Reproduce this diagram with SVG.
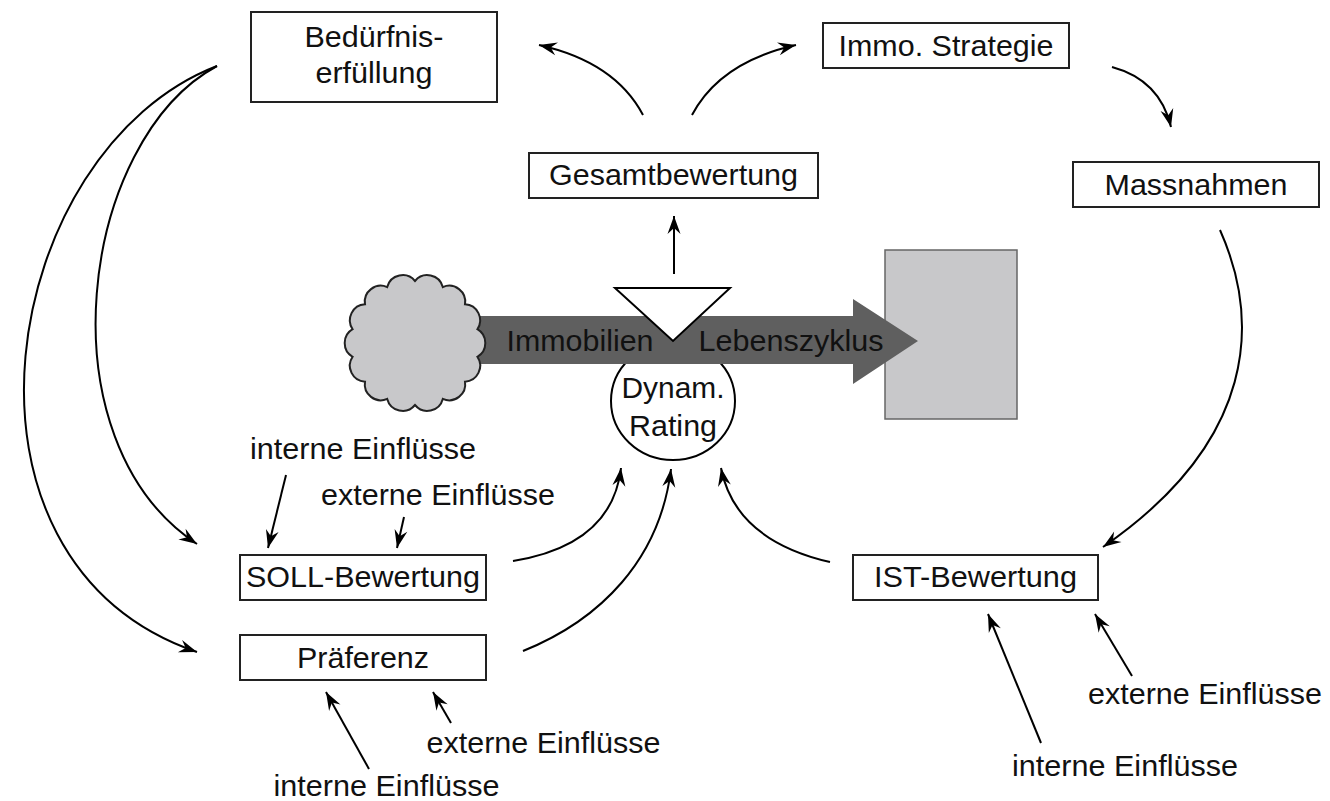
<svg xmlns="http://www.w3.org/2000/svg" width="1330" height="801" viewBox="0 0 1330 801">
<defs>
<marker id="ah" viewBox="-19 -7 20 14" markerWidth="20" markerHeight="14" refX="0" refY="0" orient="auto" markerUnits="userSpaceOnUse">
<path d="M0,0 L-18,-6.5 L-12,0 L-18,6.5 z" fill="#000"/>
</marker>
<style>
.box{fill:#fff;stroke:#222;stroke-width:2}
.t{font-family:"Liberation Sans",Arial,sans-serif;font-size:29.5px;fill:#111;text-anchor:middle}
.c{fill:none;stroke:#000;stroke-width:2;marker-end:url(#ah)}
</style>
</defs>
<rect width="1330" height="801" fill="#fff"/>

<g id="rating">
<ellipse cx="673" cy="401" rx="62" ry="59" fill="#fff" stroke="#000" stroke-width="2"/>
<text class="t" x="673" y="398" textLength="103" lengthAdjust="spacingAndGlyphs">Dynam.</text>
<text class="t" x="673" y="436" textLength="88" lengthAdjust="spacingAndGlyphs">Rating</text>
</g>

<g id="endrect">
<rect x="885" y="250" width="132" height="169" fill="#c8c8ca" stroke="#666" stroke-width="1.5"/>
</g>

<g id="lifecycle">
<polygon points="470,316 853,316 853,299 918,341 853,384 853,364 470,364" fill="#5f5f5f"/>
<text class="t" x="580" y="351" textLength="147" lengthAdjust="spacingAndGlyphs">Immobilien</text>
<text class="t" x="791" y="351" textLength="185" lengthAdjust="spacingAndGlyphs">Lebenszyklus</text>
</g>

<g id="cloud">
<path d="M415,281 A16,16 0 0 1 442.8,287.1 A16,16 0 0 1 465,304.3 A16,16 0 0 1 477.4,329.2 A16,16 0 0 1 477.4,356.8 A16,16 0 0 1 465,381.7 A16,16 0 0 1 442.8,398.9 A16,16 0 0 1 415,405 A16,16 0 0 1 387.2,398.9 A16,16 0 0 1 365,381.7 A16,16 0 0 1 352.6,356.8 A16,16 0 0 1 352.6,329.2 A16,16 0 0 1 365,304.3 A16,16 0 0 1 387.2,287.1 A16,16 0 0 1 415,281 z" fill="#c8c8ca" stroke="#222" stroke-width="2"/>
</g>

<g id="gate">
<polygon points="615,288 730,288 673,341" fill="#fff" stroke="#000" stroke-width="2"/>
</g>

<g id="beduerfnis">
<rect class="box" x="251" y="12" width="246" height="90"/>
<text class="t" x="374" y="47" textLength="139" lengthAdjust="spacingAndGlyphs">Bedürfnis-</text>
<text class="t" x="374" y="83" textLength="117" lengthAdjust="spacingAndGlyphs">erfüllung</text>
</g>

<g id="strategie">
<rect class="box" x="823" y="23" width="246" height="45"/>
<text class="t" x="946" y="56" textLength="215" lengthAdjust="spacingAndGlyphs">Immo. Strategie</text>
</g>

<g id="gesamt">
<rect class="box" x="529" y="153" width="289" height="45"/>
<text class="t" x="673.5" y="185" textLength="249" lengthAdjust="spacingAndGlyphs">Gesamtbewertung</text>
</g>

<g id="massnahmen">
<rect class="box" x="1073" y="162" width="246" height="45"/>
<text class="t" x="1196" y="195" textLength="183" lengthAdjust="spacingAndGlyphs">Massnahmen</text>
</g>

<g id="soll">
<rect class="box" x="240" y="555" width="246" height="45"/>
<text class="t" x="363" y="587" textLength="234" lengthAdjust="spacingAndGlyphs">SOLL-Bewertung</text>
</g>

<g id="praeferenz">
<rect class="box" x="240" y="635" width="246" height="45"/>
<text class="t" x="363" y="668" textLength="132" lengthAdjust="spacingAndGlyphs">Präferenz</text>
</g>

<g id="ist">
<rect class="box" x="853" y="555" width="245" height="45"/>
<text class="t" x="975.5" y="587" textLength="203" lengthAdjust="spacingAndGlyphs">IST-Bewertung</text>
</g>

<g id="einfluesse">
<text class="t" x="363" y="459" textLength="226" lengthAdjust="spacingAndGlyphs">interne Einflüsse</text>
<text class="t" x="438" y="505" textLength="234" lengthAdjust="spacingAndGlyphs">externe Einflüsse</text>
<text class="t" x="543.5" y="753" textLength="234" lengthAdjust="spacingAndGlyphs">externe Einflüsse</text>
<text class="t" x="386.5" y="796" textLength="226" lengthAdjust="spacingAndGlyphs">interne Einflüsse</text>
<text class="t" x="1205" y="704" textLength="234" lengthAdjust="spacingAndGlyphs">externe Einflüsse</text>
<text class="t" x="1125" y="776" textLength="226" lengthAdjust="spacingAndGlyphs">interne Einflüsse</text>
</g>

<g id="connectors">
<path class="c" d="M643,115 Q615,62 539,45"/>
<path class="c" d="M692,115 Q720,62 796,45"/>
<path class="c" d="M1112,67 Q1160,80 1171,127"/>
<path class="c" d="M1220,230 C1260,320 1258,440 1103,547"/>
<path class="c" d="M217,66 C80,140 40,440 197,544"/>
<path class="c" d="M217,66 C0,150 -70,560 197,652"/>
<path class="c" d="M674,274 L674,216"/>
<path class="c" d="M513,561 Q612,545 621,468"/>
<path class="c" d="M523,651 C600,620 660,560 671,469"/>
<path class="c" d="M830,562 Q735,540 721,468"/>
<path class="c" d="M286,475 L268,548"/>
<path class="c" d="M404,517 L397,548"/>
<path class="c" d="M369,769 L326,692"/>
<path class="c" d="M451,723 L433,692"/>
<path class="c" d="M1041,743 L988,614"/>
<path class="c" d="M1132,676 L1095,614"/>
</g>
</svg>
